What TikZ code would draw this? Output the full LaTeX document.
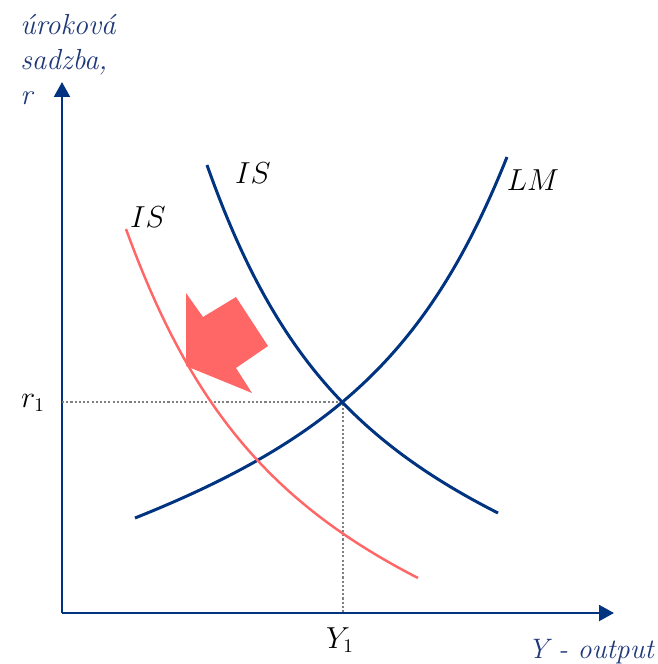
\documentclass[tikz,border=0pt]{standalone}
\usepackage{amsmath}
\usepackage{fontspec}
\usepackage{tikz}
\usetikzlibrary{arrows.meta, positioning, calc}
\definecolor{curveblue}{RGB}{0, 51, 128}
\definecolor{labelblue}{RGB}{31, 56, 120}
\definecolor{shiftred}{RGB}{255, 102, 102}
\definecolor{guidegray}{RGB}{128, 128, 128}

\begin{document}
\begin{tikzpicture}[
        x=0.02cm, y=-0.02cm,
        >={Triangle[length=8.5pt, width=9pt]},
        % Axes with filled triangle tips
        axis/.style={draw=curveblue, line width=1.4pt, ->},
        % Original IS and LM curves
        bluecurve/.style={draw=curveblue, line width=1.7pt},
        % Shifted IS curve
        redcurve/.style={draw=shiftred, line width=1.4pt},
        % Dotted guide lines to the axes
        guide/.style={draw=guidegray, line width=1.3pt, dash pattern=on 1.2pt off 1.2pt},
        % Text styles
        axislabel/.style={text=labelblue, font=\fontsize{16.5}{19.8}\selectfont\itshape, inner sep=0pt},
        curvelabel/.style={font=\fontsize{16}{19.8}\selectfont, inner sep=0pt}
    ]

    \useasboundingbox (0,0) rectangle (658,664);

    % 1. Axes
    \coordinate (origin) at (62,613);
    \coordinate (ytip) at (62,82);
    \coordinate (xtip) at (614,613);
    \draw[axis] (origin) -- (ytip);
    \draw[axis] (origin) -- (xtip);

    \node[axislabel, anchor=north west, align=left] (ylab) at (20,14) {úroková\\sadzba,\\r};
    \node[axislabel, anchor=base east, font=\fontsize{16}{19.8}\selectfont\itshape] (xlab) at (654,658) {Y - output};

    % 2. Equilibrium and guide lines
    \coordinate (eq) at (343,402);
    \coordinate (eqy) at (62,402);
    \coordinate (eqx) at (343,613);
    \draw[guide] (eqy) -- (eq) -- (eqx);

    \node[curvelabel, anchor=base] (r1) at (33,407) {$r_1$};
    \node[curvelabel, anchor=base] (Y1) at (340,648) {$Y_1$};

    % 3. LM and IS curves
    \coordinate (lmstart) at (135,518);
    \coordinate (lmend) at (507,157);
    \coordinate (isstart) at (207,165);
    \coordinate (isend) at (498,513);
    \coordinate (isnewstart) at (126,229);
    \coordinate (isnewend) at (418,578);
    \draw[bluecurve] (lmstart) .. controls (338,437) and (431,347) .. (lmend);
    \draw[bluecurve] (isstart) .. controls (270,343) and (348,437) .. (isend);
    \draw[redcurve] (isnewstart) .. controls (190,405) and (270,502) .. (isnewend);

    \node[curvelabel, anchor=base] (lmlab) at (533,190) {$LM$};
    \node[curvelabel, anchor=base] (islab) at (253,183) {$IS$};
    \node[curvelabel, anchor=base] (islabnew) at (148,227) {$IS$};

    % 4. Shift arrow
    \fill[shiftred] (186,293) -- (203,317) -- (236,297) -- (268,346) -- (236,368)
        -- (252,393) -- (186,366) -- cycle;

\end{tikzpicture}
\end{document}
